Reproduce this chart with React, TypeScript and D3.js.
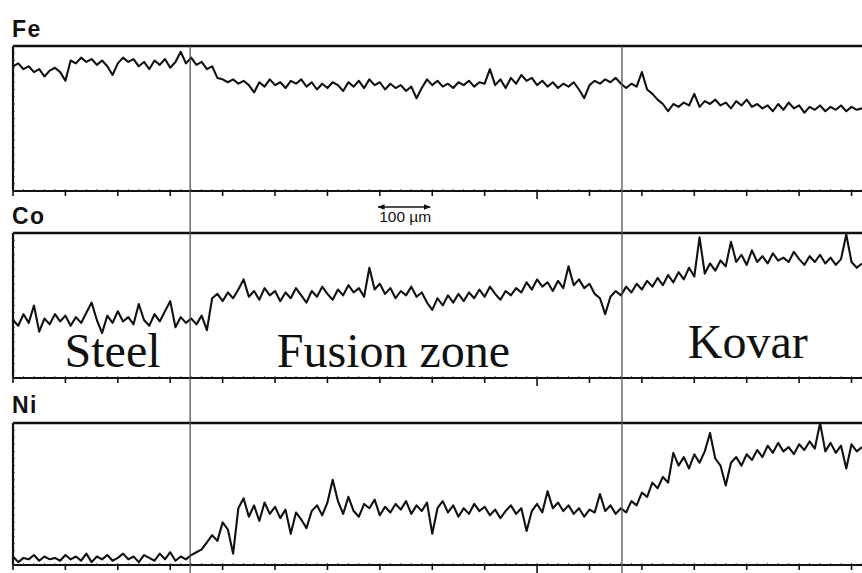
import React from "react";
import * as d3 from "d3";

// Line-scan data, 10 µm steps from 0 to 1620 µm (relative counts, 0–100 per panel)
const stepUm = 10;
const feCounts = [
  86, 88, 84, 86, 82, 84, 79, 83, 85, 82, 76, 90, 88, 92, 89, 91, 87, 90, 86, 80,
  88, 92, 89, 91, 86, 89, 84, 90, 87, 91, 85, 89, 96, 88, 92, 87, 89, 84, 86, 78,
  77, 75, 77, 74, 76, 73, 68, 75, 72, 77, 73, 75, 71, 76, 74, 77, 72, 75, 70, 74,
  71, 75, 73, 69, 75, 72, 76, 71, 77, 73, 75, 70, 74, 71, 73, 69, 72, 64, 71, 77,
  73, 76, 72, 74, 71, 75, 73, 76, 72, 75, 74, 84, 73, 77, 71, 78, 74, 80, 76, 78,
  73, 76, 72, 75, 71, 74, 72, 75, 70, 64, 73, 76, 74, 77, 75, 78, 74, 71, 74, 72,
  82, 70, 67, 63, 60, 55, 60, 58, 61, 59, 67, 58, 62, 60, 63, 59, 61, 57, 62, 59,
  63, 58, 60, 57, 59, 55, 60, 56, 61, 57, 59, 54, 58, 56, 59, 55, 58, 56, 59, 55,
  58, 56, 57,
];
const coCounts = [
  40, 36, 44, 38, 50, 32, 41, 37, 44, 39, 43, 36, 42, 38, 45, 52, 40, 31, 43, 38,
  46, 39, 42, 37, 51, 40, 36, 44, 39, 46, 53, 35, 42, 38, 41, 37, 43, 33, 55, 58,
  53, 59, 55, 61, 68, 56, 60, 54, 62, 57, 60, 53, 59, 55, 62, 57, 52, 60, 56, 63,
  58, 54, 61, 57, 64, 59, 62, 56, 76, 61, 65, 58, 62, 55, 60, 57, 63, 56, 59, 52,
  47, 55, 50, 57, 52, 58, 53, 59, 55, 61, 56, 63, 58, 54, 60, 57, 62, 59, 66, 61,
  68, 63, 66, 60, 67, 62, 77, 64, 68, 62, 65, 58, 55, 44, 56, 60, 57, 63, 59, 65,
  61, 67, 63, 69, 64, 71, 66, 73, 68, 76, 70, 97, 72, 79, 74, 81, 77, 94, 80, 85,
  78, 88, 80, 84, 79, 86, 81, 83, 80, 87, 82, 78, 84, 80, 85, 79, 83, 78, 82, 99,
  80, 76, 79,
];
const niCounts = [
  6, 2, 5, 4, 7, 3, 6, 4, 5, 3, 7, 4, 6, 3, 8, 2, 6, 4, 7, 3,
  5, 8, 4, 6, 2, 7, 5, 3, 8, 4, 9, 3, 6, 4, 7, 9, 11, 16, 21, 17,
  30, 25, 8, 40, 47, 34, 42, 31, 44, 36, 41, 33, 39, 22, 37, 32, 26, 38, 42, 35,
  44, 60, 45, 36, 48, 38, 34, 43, 40, 46, 35, 41, 37, 43, 39, 45, 36, 42, 38, 44,
  22, 40, 45, 37, 42, 34, 40, 36, 43, 38, 41, 35, 39, 33, 38, 42, 36, 40, 24, 38,
  43, 37, 52, 40, 44, 38, 42, 36, 40, 34, 39, 37, 50, 38, 42, 36, 40, 37, 45, 42,
  51, 48, 58, 54, 62, 58, 79, 70, 76, 68, 78, 72, 80, 93, 75, 70, 56, 72, 76, 70,
  78, 74, 81, 76, 84, 79, 86, 80, 83, 78, 85, 81, 87, 82, 100, 80, 86, 79, 84, 68,
  85, 80, 83,
];

const elements = ["Fe", "Co", "Ni"];
const seriesList = [feCounts, coCounts, niCounts];
const tickValuesUm = [0, 100, 200, 300, 400, 500, 600, 700, 800, 900, 1000, 1100, 1200, 1300, 1400, 1500, 1600];
const boundariesUm = [338, 1162];
const zoneLabels = ["Steel", "Fusion zone", "Kovar"];
const zoneLabelCentersUm = [190, 726, 1402];
const scaleBarUm = [697, 796];
const scaleBarLabel = "100 µm";

const W = 862;
const H = 573;
const panels = [
  { top: 46, bottom: 191, labelY: 37 },
  { top: 233, bottom: 378, labelY: 224 },
  { top: 423, bottom: 565, labelY: 413 },
];
const zoneBaselines = [367, 367, 358];

export default function App() {
  const x = d3.scaleLinear().domain([0, 1620]).range([13, 862]);

  return (
    <svg
      width={W}
      height={H}
      viewBox={`0 0 ${W} ${H}`}
      style={{ position: "absolute", left: 0, top: 0, background: "#fff" }}
    >
      <defs>
        <marker id="arr" viewBox="0 0 10 10" refX="9" refY="5" markerWidth="5" markerHeight="5" orient="auto-start-reverse">
          <path d="M0,1 L10,5 L0,9 Z" fill="#111" />
        </marker>
      </defs>
      <rect x={0} y={0} width={W} height={H} fill="#fff" />

      {panels.map((p, k) => {
        const y = d3.scaleLinear().domain([0, 100]).range([p.bottom, p.top]);
        const line = d3
          .line<number>()
          .x((_, i) => x(i * stepUm))
          .y((d) => y(d));
        return (
          <g key={elements[k]}>
            <text
              x={12}
              y={p.labelY}
              fontFamily="Liberation Sans, Arial, sans-serif"
              fontWeight="bold"
              fontSize={23}
              letterSpacing={1.5}
              fill="#111"
            >
              {elements[k]}
            </text>
            {/* frame */}
            <line x1={x(0)} x2={W} y1={p.top} y2={p.top} stroke="#111" strokeWidth={2.4} />
            <line x1={x(0)} x2={x(0)} y1={p.top} y2={p.bottom} stroke="#111" strokeWidth={2.2} />
            <line x1={x(0)} x2={W} y1={p.bottom} y2={p.bottom} stroke="#111" strokeWidth={2.2} />
            {/* minor ticks on left axis */}
            {d3.range(0, 101, 5).map((v) => (
              <line key={"l" + v} x1={x(0)} x2={x(0) + 2} y1={y(v)} y2={y(v)} stroke="#333" strokeWidth={0.8} />
            ))}
            {/* minor ticks on baseline */}
            {d3.range(0, 1621, 20).map((v) => (
              <line key={"m" + v} x1={x(v)} x2={x(v)} y1={p.bottom} y2={p.bottom - 2} stroke="#333" strokeWidth={0.8} />
            ))}
            {/* major ticks */}
            {tickValuesUm.map((v) => (
              <line
                key={"t" + v}
                x1={x(v)}
                x2={x(v)}
                y1={p.bottom}
                y2={p.bottom + (v === 1000 ? 8 : 5)}
                stroke="#111"
                strokeWidth={1.6}
              />
            ))}
            <path d={line(seriesList[k]) || ""} fill="none" stroke="#111" strokeWidth={2.1} strokeLinejoin="round" />
          </g>
        );
      })}

      {/* zone boundaries */}
      {boundariesUm.map((b) => (
        <line key={b} x1={x(b)} x2={x(b)} y1={panels[0].top} y2={H} stroke="#555" strokeWidth={1.3} />
      ))}

      {/* zone labels */}
      {zoneLabels.map((t, i) => (
        <text
          key={t}
          x={x(zoneLabelCentersUm[i])}
          y={zoneBaselines[i]}
          textAnchor="middle"
          fontFamily="Liberation Serif, Times New Roman, serif"
          fontSize={48}
          fill="#111"
        >
          {t}
        </text>
      ))}

      {/* scale bar */}
      <line
        x1={x(scaleBarUm[0])}
        x2={x(scaleBarUm[1])}
        y1={207}
        y2={207}
        stroke="#111"
        strokeWidth={1.4}
        markerStart="url(#arr)"
        markerEnd="url(#arr)"
      />
      <text
        x={(x(scaleBarUm[0]) + x(scaleBarUm[1])) / 2 + 1}
        y={222}
        textAnchor="middle"
        fontFamily="Liberation Sans, Arial, sans-serif"
        fontSize={15.5}
        fill="#111"
      >
        {scaleBarLabel}
      </text>
    </svg>
  );
}
